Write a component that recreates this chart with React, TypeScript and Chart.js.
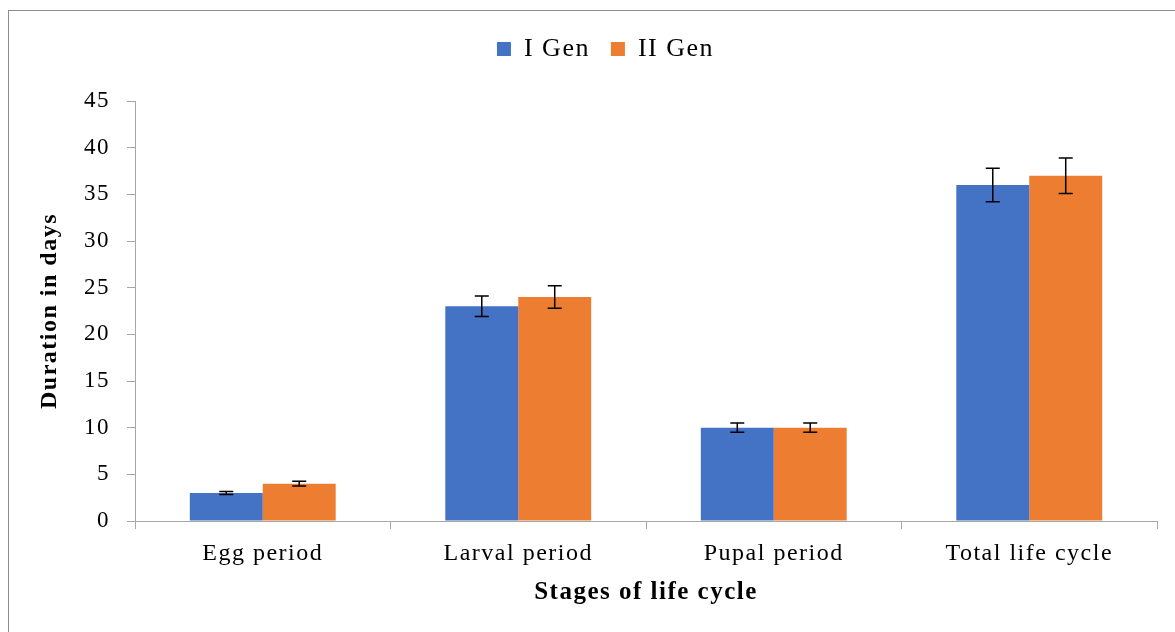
import React, { useEffect, useRef } from 'react';
import { Chart, registerables } from 'chart.js';

Chart.register(...registerables);

const categories = ['Egg period', 'Larval period', 'Pupal period', 'Total life cycle'];
const seriesNames = ['I Gen', 'II Gen'];
const gen1Values = [3, 23, 10, 36];
const gen2Values = [4, 24, 10, 37];
const gen1Errors = [0.15, 1.1, 0.5, 1.8];
const gen2Errors = [0.25, 1.2, 0.5, 1.9];
const yMin = 0;
const yMax = 45;
const yStep = 5;
const seriesColors = ['#4472C4', '#ED7D31'];
const xTitle = 'Stages of life cycle';
const yTitle = 'Duration in days';

const FONT = '"Liberation Serif", "Times New Roman", serif';
const LETTER_SPACING = '1.5px';

const errorBarPlugin = {
  id: 'errorBars',
  afterDatasetsDraw(chart: any) {
    const { ctx } = chart;
    const y = chart.scales.y;
    chart.data.datasets.forEach((ds: any, i: number) => {
      const meta = chart.getDatasetMeta(i);
      const errs: number[] = ds.errors || [];
      meta.data.forEach((bar: any, j: number) => {
        const v = ds.data[j] as number;
        const e = errs[j] || 0;
        const top = y.getPixelForValue(v + e);
        const bot = y.getPixelForValue(v - e);
        const x = bar.x;
        const cap = 7;
        ctx.save();
        ctx.strokeStyle = '#000';
        ctx.lineWidth = 1.5;
        ctx.beginPath();
        ctx.moveTo(x, top);
        ctx.lineTo(x, bot);
        ctx.moveTo(x - cap, top);
        ctx.lineTo(x + cap, top);
        ctx.moveTo(x - cap, bot);
        ctx.lineTo(x + cap, bot);
        ctx.stroke();
        ctx.restore();
      });
    });
  },
};

const textSpacingPlugin = {
  id: 'textSpacing',
  beforeUpdate(chart: any) {
    (chart.ctx as any).letterSpacing = LETTER_SPACING;
  },
  beforeDraw(chart: any) {
    (chart.ctx as any).letterSpacing = LETTER_SPACING;
  },
};

const legendLayoutPlugin = {
  id: 'legendLayout',
  beforeUpdate(chart: any) {
    const lg = chart.legend;
    if (lg && !lg._patchedFit) {
      const orig = lg.fit.bind(lg);
      lg.fit = function () {
        orig();
        this.height = 86;
      };
      lg._patchedFit = true;
    }
  },
  afterLayout(chart: any) {
    const lg = chart.legend;
    if (lg) {
      lg.left = 54;
      lg.width = lg.right - lg.left;
    }
  },
};

export default function App() {
  const ref = useRef<HTMLCanvasElement>(null);

  useEffect(() => {
    const canvas = ref.current;
    if (!canvas) return;
    const chart = new Chart(canvas, {
      type: 'bar',
      data: {
        labels: categories,
        datasets: [
          {
            label: seriesNames[0],
            data: gen1Values,
            errors: gen1Errors,
            backgroundColor: seriesColors[0],
            borderWidth: 0,
            categoryPercentage: 0.571,
            barPercentage: 1.0,
          } as any,
          {
            label: seriesNames[1],
            data: gen2Values,
            errors: gen2Errors,
            backgroundColor: seriesColors[1],
            borderWidth: 0,
            categoryPercentage: 0.571,
            barPercentage: 1.0,
          } as any,
        ],
      },
      options: {
        responsive: false,
        animation: false,
        devicePixelRatio: 1,
        layout: { padding: { top: 15, right: 18, left: 0, bottom: 0 } },
        plugins: {
          legend: {
            position: 'top',
            labels: {
              font: { family: FONT, size: 26 },
              color: '#000',
              boxWidth: 14,
              boxHeight: 14,
              padding: 21,
            },
          },
          tooltip: { enabled: false },
        },
        scales: {
          x: {
            grid: {
              display: true,
              drawOnChartArea: false,
              drawTicks: true,
              tickLength: 8,
              color: '#a6a6a6',
              offset: true,
            },
            border: { display: true, color: '#a6a6a6', width: 1 },
            ticks: { font: { family: FONT, size: 24 }, color: '#000', padding: 10 },
            title: {
              display: true,
              text: xTitle,
              font: { family: FONT, size: 25, weight: 'bold' },
              color: '#000',
              padding: { top: 0, bottom: 24 },
            },
            afterFit: (s: any) => {
              s.height = 111;
            },
          },
          y: {
            min: yMin,
            max: yMax,
            grid: {
              display: true,
              drawOnChartArea: false,
              drawTicks: true,
              tickLength: 8,
              color: '#a6a6a6',
            },
            border: { display: true, color: '#a6a6a6', width: 1 },
            ticks: { stepSize: yStep, font: { family: FONT, size: 23 }, color: '#000', padding: 17 },
            title: {
              display: true,
              text: yTitle,
              font: { family: FONT, size: 24, weight: 'bold' },
              color: '#000',
              padding: { top: 35, bottom: 0 },
            },
            afterFit: (s: any) => {
              s.width = 135;
            },
          },
        },
      } as any,
      plugins: [textSpacingPlugin, errorBarPlugin, legendLayoutPlugin],
    });
    return () => chart.destroy();
  }, []);

  return (
    <div
      style={{
        position: 'fixed',
        left: 0,
        top: 0,
        width: 1175,
        height: 632,
        background: '#fff',
        overflow: 'hidden',
      }}
    >
      <canvas ref={ref} width={1175} height={632} style={{ position: 'absolute', left: 0, top: 0 }} />
      <div
        style={{
          position: 'absolute',
          left: 8,
          top: 10,
          right: -2,
          bottom: -2,
          borderLeft: '1px solid #8c8c8c',
          borderTop: '1px solid #8c8c8c',
          pointerEvents: 'none',
        }}
      />
    </div>
  );
}
